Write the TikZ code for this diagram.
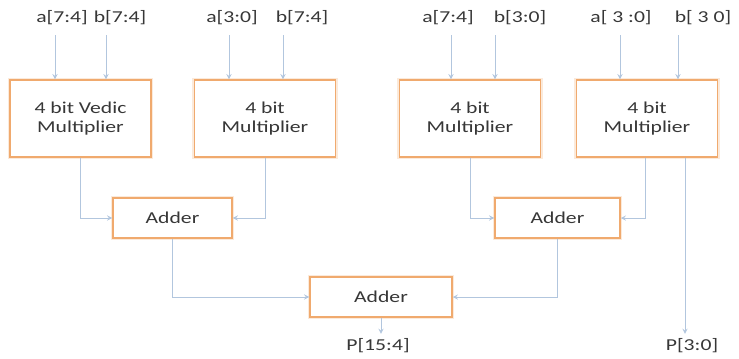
\documentclass[tikz,border=0pt]{standalone}
\usepackage{fontspec}
\setmainfont{Carlito}[FakeStretch=1.3]
\usetikzlibrary{arrows, positioning, calc}
\definecolor{boxline}{RGB}{240,170,110}
\definecolor{wire}{RGB}{178,198,222}
\definecolor{txt}{RGB}{55,55,55}
\tikzset{
  block/.style = {draw = boxline, fill = white, line width = 1.1pt, align = center,
    preaction = {draw = boxline!25, line width = 3.5pt},
    inner sep = 0pt, minimum width = 105.75pt, minimum height = 57.75pt},
  addblock/.style = {block, minimum height = 30pt},
  sig/.style = {text = txt}
}
\begin{document}
\begin{tikzpicture} [x = 0.75pt, y = -0.75pt, -> , >= stealth, line width = 0.75pt, draw = wire, text = txt,
  font = \fontsize{12.5}{14}\selectfont]
\useasboundingbox (0,0) rectangle (739,358);

\node [block] (m1) at (80.5,118.5) {4 bit Vedic\\Multiplier};
\node [block] (m2) at (265,118.5) {4 bit\\Multiplier};
\node [block] (m3) at (470,118.5) {4 bit\\Multiplier};
\node [block] (m4) at (647,118.5) {4 bit\\Multiplier};

\node [addblock, minimum width = 89.25pt] (add1) at (172.5,218) {Adder};
\node [addblock, minimum width = 93.75pt] (add2) at (557.5,218) {Adder};
\node [addblock, minimum width = 106.5pt] (add3) at (381,297) {Adder};

\node [sig] (a1) at (62,18) {a[7:4]};
\node [sig] (b1) at (120,18) {b[7:4]};
\node [sig] (a2) at (232,18) {a[3:0]};
\node [sig] (b2) at (302,18) {b[7:4]};
\node [sig] (a3) at (448,18) {a[7:4]};
\node [sig] (b3) at (520,18) {b[3:0]};
\node [sig] (a4) at (621,18) {a[ 3 :0]};
\node [sig] (b4) at (703,18) {b[ 3 0]};

\coordinate (a1in) at (55,35);
\coordinate (b1in) at (106,35);
\coordinate (a2in) at (229,35);
\coordinate (b2in) at (283,35);
\coordinate (a3in) at (451,35);
\coordinate (b3in) at (495,35);
\coordinate (a4in) at (620,35);
\coordinate (b4in) at (678,35);

\path (a1in) edge (a1in |- m1.north);
\path (b1in) edge (b1in |- m1.north);
\path (a2in) edge (a2in |- m2.north);
\path (b2in) edge (b2in |- m2.north);
\path (a3in) edge (a3in |- m3.north);
\path (b3in) edge (b3in |- m3.north);
\path (a4in) edge (a4in |- m4.north);
\path (b4in) edge (b4in |- m4.north);

\draw (m1.south) |- (add1.west);
\draw (m2.south) |- (add1.east);
\draw (m3.south) |- (add2.west);
\draw ([xshift = -1.5pt]m4.south) |- (add2.east);
\draw (add1.south) |- (add3.west);
\draw (add2.south) |- (add3.east);

\node [sig] (p1) at (378,346) {P[15:4]};
\node [sig] (p2) at (692,346) {P[3:0]};
\coordinate (p2out) at ($(m4.south)+(38,0)$);

\path (add3.south) edge (add3.south |- p1.north);
\path (p2out) edge (p2out |- p2.north);

\end{tikzpicture}
\end{document}
